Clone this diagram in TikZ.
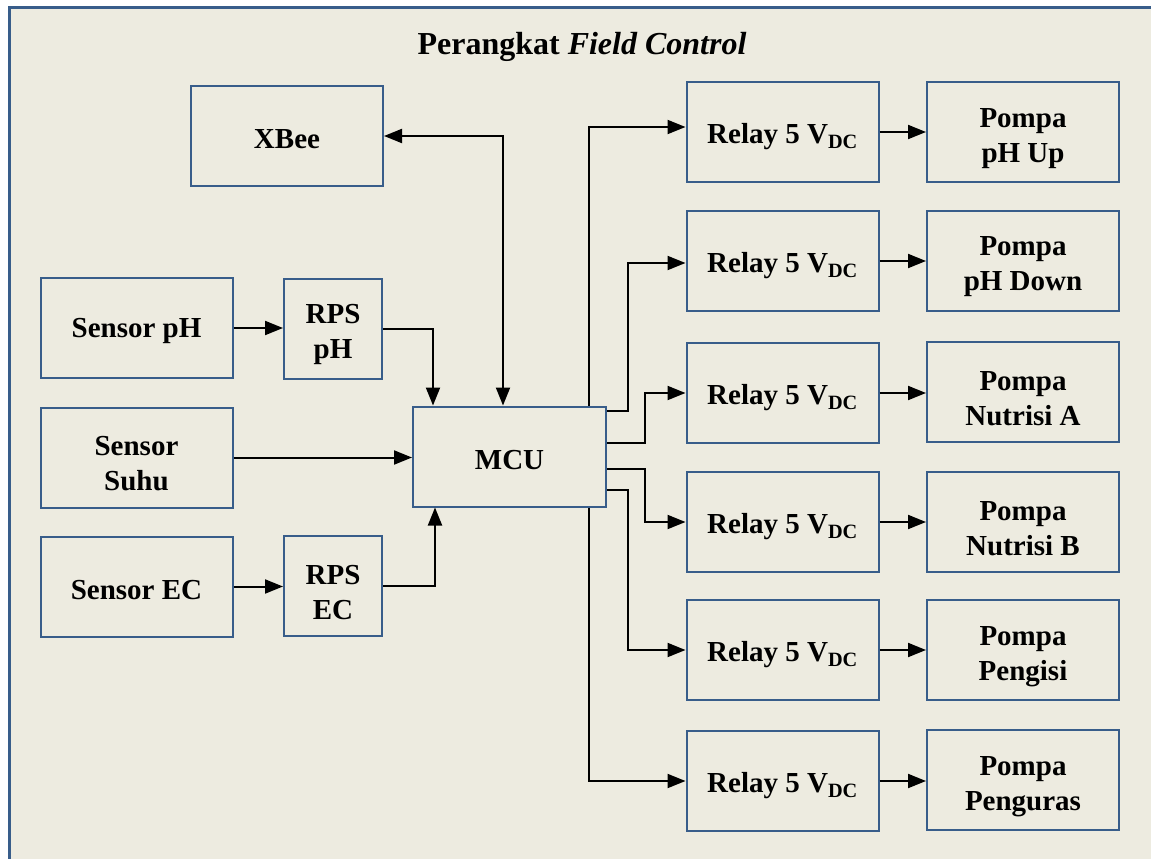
\documentclass[tikz,border=0pt]{standalone}
\usepackage{fontspec}
\setmainfont{Liberation Serif}
\usetikzlibrary{arrows.meta}
\definecolor{panel}{RGB}{237,235,224}
\definecolor{edge}{RGB}{56,93,138}
\tikzset{
  x=1pt, y=-1pt,
  blk/.style={draw=edge, line width=2pt, fill=panel, minimum width=192pt, minimum height=100pt,
    inner sep=0pt, align=center, font=\fontsize{29}{35}\selectfont\bfseries},
  sblk/.style={blk, minimum width=98pt},
  wire/.style={line width=2pt, draw=black},
  arr/.style={wire, -{Triangle[length=18pt,width=14pt]}},
  darr/.style={wire, {Triangle[length=18pt,width=14pt]}-{Triangle[length=18pt,width=14pt]}},
}
% struts that set the text a little lower in its box
\newcommand{\lift}{\rule{0pt}{26pt}}
\newcommand{\liftt}{\rule{0pt}{32pt}}
\newcommand{\rly}{\rule{0pt}{30pt}Relay 5 V\textsubscript{DC}}
\begin{document}
\begin{tikzpicture}
\useasboundingbox (0,0) rectangle (1151,859);
\clip (0,0) rectangle (1151,859);
\fill[white] (0,0) rectangle (1151,859);
% outer panel
\draw[draw=edge, line width=3pt, fill=panel] (9,8) rectangle (1170,880);

\node[font=\fontsize{32}{38}\selectfont\bfseries] (title) at (582,47) {Perangkat \textit{Field Control}};

% input side
\node[blk] (xbee) at (287,136) {\lift XBee};
\node[blk] (sph) at (136.5,328) {\lift Sensor pH};
\node[sblk] (rph) at (333,328.5) {\liftt RPS\\pH};
\node[blk] (ssuhu) at (136.5,457.5) {\liftt Sensor\\Suhu};
\node[blk] (sec) at (136.5,586.5) {\lift Sensor EC};
\node[sblk] (rec) at (333,586) {\liftt RPS\\EC};
\node[blk, minimum width=193pt] (mcu) at (509.5,456.5) {\lift MCU};

% relays and pumps
\foreach \i/\y in {1/132,2/261,3/393,4/522,5/650,6/781}{
  \node[blk] (r\i) at (782.5,\y) {\rly};
}
\node[blk] (p1) at (1023,132) {\liftt Pompa\\pH Up};
\node[blk] (p2) at (1023,260.5) {\liftt Pompa\\pH Down};
\node[blk] (p3) at (1023,392) {\liftt Pompa\\Nutrisi A};
\node[blk] (p4) at (1023,522) {\liftt Pompa\\Nutrisi B};
\node[blk] (p5) at (1023,650) {\liftt Pompa\\Pengisi};
\node[blk] (p6) at (1023,780) {\liftt Pompa\\Penguras};

% input connections
\draw[darr] (xbee.east) -| ([xshift=-6.5pt]mcu.north);
\draw[arr] (sph.east) -- (sph.east -| rph.west);
\draw[arr] (sec.east) -- (sec.east -| rec.west);
\draw[arr] (rph.east) -| ([xshift=-76.5pt]mcu.north);
\draw[arr] (rec.east) -| ([xshift=-74.5pt]mcu.south);
\draw[arr] (ssuhu.east) -- (ssuhu.east -| mcu.west);

% output connections
\draw[arr] ([xshift=79.5pt]mcu.north) |- ([yshift=5pt]r1.west);
\draw[arr] ([yshift=-5pt]mcu.north east) -- ++(21,0) |- ([yshift=-2pt]r2.west);
\draw[arr] ([yshift=-37pt]mcu.north east) -- ++(38,0) |- (r3.west);
\draw[arr] ([yshift=-63pt]mcu.north east) -- ++(38,0) |- (r4.west);
\draw[arr] ([yshift=-84pt]mcu.north east) -- ++(21,0) |- (r5.west);
\draw[arr] ([xshift=79.5pt]mcu.south) |- (r6.west);
\foreach \i in {1,...,6}{
  \draw[arr] (r\i.east) -- (r\i.east -| p\i.west);
}
\end{tikzpicture}
\end{document}
